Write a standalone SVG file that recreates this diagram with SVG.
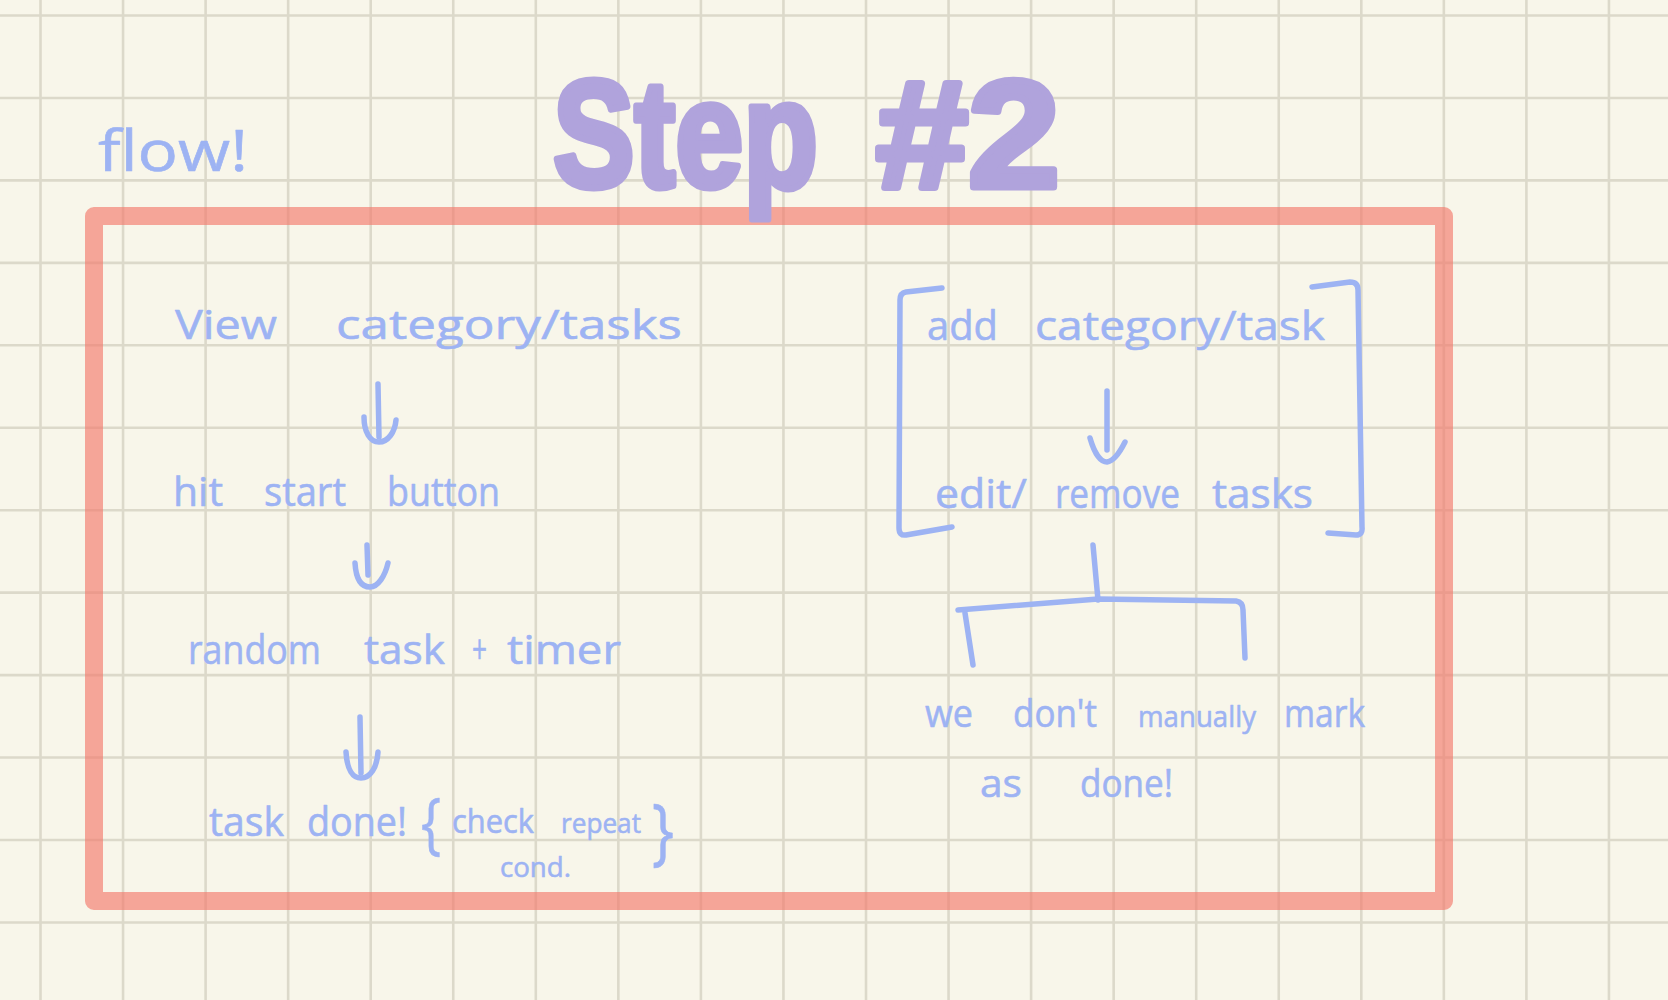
<svg xmlns="http://www.w3.org/2000/svg" width="1668" height="1000" viewBox="0 0 1668 1000">
<style>
.hw{font-family:"Open Sans","Noto Sans",sans-serif;font-weight:500;fill:#9db3f3;stroke:#9db3f3;stroke-width:0.6;stroke-linejoin:round}
.ink{fill:none;stroke:#9db3f3;stroke-width:5.5;stroke-linecap:round;stroke-linejoin:round}
.title{font-family:"Liberation Sans","Noto Sans",sans-serif;font-weight:700;fill:#b0a3dc;stroke:#b0a3dc;stroke-width:7;stroke-linejoin:round}
</style>
<rect x="0" y="0" width="1668" height="1000" fill="#f8f6ea"/>
<g id="grid" stroke="#dcd9ca" stroke-width="2.6" fill="none">
<path d="M40.5,0V1000M123.05,0V1000M205.6,0V1000M288.15,0V1000M370.7,0V1000M453.25,0V1000M535.8,0V1000M618.35,0V1000M700.9,0V1000M783.45,0V1000M866,0V1000M948.55,0V1000M1031.1,0V1000M1113.65,0V1000M1196.2,0V1000M1278.75,0V1000M1361.3,0V1000M1443.85,0V1000M1526.4,0V1000M1608.95,0V1000"/>
<path d="M0,15.5H1668M0,97.95H1668M0,180.4H1668M0,262.85H1668M0,345.3H1668M0,427.75H1668M0,510.2H1668M0,592.65H1668M0,675.1H1668M0,757.55H1668M0,840H1668M0,922.45H1668"/>
</g>
<g id="frame">
<rect x="94" y="216" width="1350" height="685" fill="none" stroke="#f27a6c" stroke-opacity="0.65" stroke-width="18" stroke-linejoin="round"/>
</g>
<g id="title">
<text class="title" y="187" font-size="152"><tspan x="553" textLength="265" lengthAdjust="spacingAndGlyphs">Step</tspan><tspan x="876" textLength="184" lengthAdjust="spacingAndGlyphs">#2</tspan></text>
</g>
<g id="label-flow">
<text class="hw" x="98" y="171" font-size="56" textLength="150" lengthAdjust="spacingAndGlyphs">flow!</text>
</g>
<g id="node-view">
<text class="hw" y="339" font-size="40"><tspan x="175" textLength="102" lengthAdjust="spacingAndGlyphs">View</tspan><tspan x="336" textLength="346" lengthAdjust="spacingAndGlyphs">category/tasks</tspan></text>
</g>
<g id="node-start">
<text class="hw" y="506" font-size="40"><tspan x="173" textLength="50" lengthAdjust="spacingAndGlyphs">hit</tspan><tspan x="264" textLength="82" lengthAdjust="spacingAndGlyphs">start</tspan><tspan x="387" textLength="113" lengthAdjust="spacingAndGlyphs">button</tspan></text>
</g>
<g id="node-random">
<text class="hw" y="664" font-size="40"><tspan x="188" textLength="133" lengthAdjust="spacingAndGlyphs">random</tspan><tspan x="364" textLength="81" lengthAdjust="spacingAndGlyphs">task</tspan><tspan x="472" textLength="15" lengthAdjust="spacingAndGlyphs">+</tspan><tspan x="507" textLength="114" lengthAdjust="spacingAndGlyphs">timer</tspan></text>
</g>
<g id="node-done">
<text class="hw" y="836" font-size="40"><tspan x="209" textLength="75" lengthAdjust="spacingAndGlyphs">task</tspan><tspan x="307" textLength="100" lengthAdjust="spacingAndGlyphs">done!</tspan><tspan x="421" y="846" font-size="68" textLength="20" lengthAdjust="spacingAndGlyphs">{</tspan><tspan x="452" y="833" font-size="32" textLength="82" lengthAdjust="spacingAndGlyphs">check</tspan><tspan x="561" y="833" font-size="28" textLength="80" lengthAdjust="spacingAndGlyphs">repeat</tspan><tspan x="652" y="856" font-size="74" textLength="22" lengthAdjust="spacingAndGlyphs">}</tspan></text>
<text class="hw" x="500" y="877" font-size="28" textLength="71" lengthAdjust="spacingAndGlyphs">cond.</text>
</g>
<g id="node-add">
<text class="hw" y="340" font-size="40"><tspan x="927" textLength="71" lengthAdjust="spacingAndGlyphs">add</tspan><tspan x="1035" textLength="290" lengthAdjust="spacingAndGlyphs">category/task</tspan></text>
</g>
<g id="node-edit">
<text class="hw" y="508" font-size="40"><tspan x="935" textLength="92" lengthAdjust="spacingAndGlyphs">edit/</tspan><tspan x="1055" textLength="125" lengthAdjust="spacingAndGlyphs">remove</tspan><tspan x="1212" textLength="101" lengthAdjust="spacingAndGlyphs">tasks</tspan></text>
</g>
<g id="group-bracket">
<path class="ink" d="M942,288 L906,292 Q900,293 900,300 L899,528 Q899,536 906,535 L952,527"/>
<path class="ink" d="M1312,287 L1350,282 Q1358,282 1358,290 L1362,527 Q1363,535 1356,535 L1328,533"/>
</g>
<g id="node-note">
<text class="hw" y="727" font-size="38"><tspan x="925" textLength="48" lengthAdjust="spacingAndGlyphs">we</tspan><tspan x="1013" textLength="84" lengthAdjust="spacingAndGlyphs">don't</tspan><tspan x="1138" font-size="30" textLength="118" lengthAdjust="spacingAndGlyphs">manually</tspan><tspan x="1284" textLength="81" lengthAdjust="spacingAndGlyphs">mark</tspan></text>
<text class="hw" y="797" font-size="38"><tspan x="980" textLength="42" lengthAdjust="spacingAndGlyphs">as</tspan><tspan x="1080" textLength="93" lengthAdjust="spacingAndGlyphs">done!</tspan></text>
</g>
<g id="connectors">
<path class="ink" d="M378,384 L379,437"/>
<path class="ink" d="M364,417 C364,432 370,442 379,442 C388,442 395,432 396,420"/>
<path class="ink" d="M367,545 L368,575"/>
<path class="ink" d="M355,563 C356,580 362,587 370,587 C378,587 385,576 388,563"/>
<path class="ink" d="M360,717 L361,773"/>
<path class="ink" d="M346,752 C347,770 353,778 361,778 C370,778 377,768 378,752"/>
<path class="ink" d="M1107,391 L1107,450"/>
<path class="ink" d="M1090,438 C1094,452 1100,462 1107,462 C1114,461 1120,452 1125,442"/>
<path class="ink" d="M1093,545 L1098,600"/>
<path class="ink" d="M958,610 L1098,599 L1236,601 Q1243,602 1243,610 L1245,658"/>
<path class="ink" d="M965,613 L973,665"/>
</g>
</svg>
